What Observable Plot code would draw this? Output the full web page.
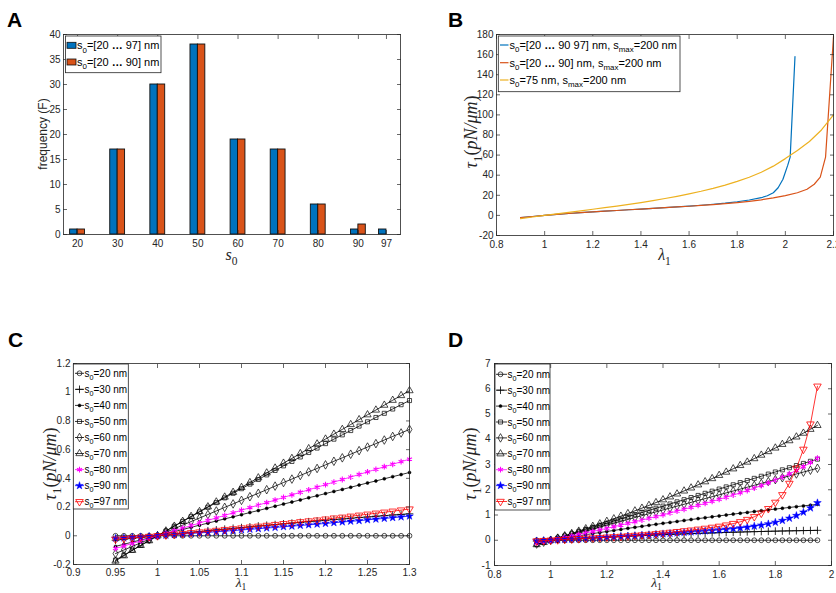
<!DOCTYPE html>
<html><head><meta charset="utf-8">
<script src="https://cdn.jsdelivr.net/npm/d3@7"></script>
<script src="https://cdn.jsdelivr.net/npm/@observablehq/plot@0.6"></script>
<style>
html,body{margin:0;padding:0;background:#fff;overflow:hidden;}
#root{position:relative;width:836px;height:593px;background:#fff;}
.panel{position:absolute;}
text{white-space:pre;}
</style></head><body><div id="root"></div>
<script>
// ---------- Panel A data ----------
const sBins = [20,30,40,50,60,70,80,90,97];
const freqAll = [1,17,30,38,19,17,6,1,1];     // s0 = [20 … 97] nm
const freqTo90 = [1,17,30,38,19,17,6,2,0];    // s0 = [20 … 90] nm
const ticksAx = [20,30,40,50,60,70,80,90,97];
const ticksAy = [0,5,10,15,20,25,30,35,40];

// ---------- Panel B data ----------
const lamBblue = [0.9,0.95,1.0,1.05,1.1,1.15,1.2,1.25,1.3,1.35,1.4,1.45,1.5,1.55,1.6,1.65,1.7,1.75,1.8,1.85,1.9,1.925,1.95,1.97,1.99,2.01,2.02,2.04];
const tauBblue = [-2.3,-1.1,0,1.0,1.9,2.7,3.5,4.2,4.9,5.6,6.3,7.0,7.7,8.4,9.2,10.1,11.1,12.2,13.6,15.3,17.6,19.5,22.5,27.5,36,50,58,158];
const lamBorange = [0.9,0.95,1.0,1.05,1.1,1.15,1.2,1.25,1.3,1.35,1.4,1.45,1.5,1.55,1.6,1.65,1.7,1.75,1.8,1.85,1.9,1.95,2.0,2.05,2.09,2.12,2.145,2.167,2.2];
const tauBorange = [-2.3,-1.1,0,1.0,1.9,2.7,3.5,4.2,4.9,5.6,6.3,7.0,7.7,8.4,9.1,9.9,10.8,11.7,12.8,14.0,15.5,17.4,19.6,22.5,26,31,38,58,178];
const lamByellow = [0.9,0.95,1.0,1.05,1.1,1.15,1.2,1.25,1.3,1.35,1.4,1.45,1.5,1.55,1.6,1.65,1.7,1.75,1.8,1.85,1.9,1.95,2.0,2.05,2.1,2.15,2.2];
const tauByellow = [-3.2,-1.6,0,1.5,3.0,4.5,6.1,7.7,9.3,11.0,12.8,14.7,16.8,19.0,21.4,24.0,26.9,30.1,33.8,38.0,43.0,49.0,56.5,64.5,73.5,85,100];
const ticksBx = [0.8,1,1.2,1.4,1.6,1.8,2,2.2];
const ticksBy = [-20,0,20,40,60,80,100,120,140,160,180];

// ---------- Panel C data ----------
const sLabels = [20,30,40,50,60,70,80,90,97];
const lamC = [0.95,0.96,0.97,0.98,0.99,1,1.01,1.02,1.03,1.04,1.05,1.06,1.07,1.08,1.09,1.1,1.11,1.12,1.13,1.14,1.15,1.16,1.17,1.18,1.19,1.2,1.21,1.22,1.23,1.24,1.25,1.26,1.27,1.28,1.29,1.3];
const C20 = [0,0,0,0,0,0,0,0,0,0,0,0,0,0,0,0,0,0,0,0,0,0,0,0,0,0,0,0,0,0,0,0,0,0,0,0];
const C30 = [-0.031,-0.024,-0.018,-0.012,-0.006,0,0.006,0.012,0.018,0.024,0.029,0.035,0.041,0.046,0.052,0.057,0.062,0.068,0.073,0.078,0.083,0.088,0.093,0.098,0.103,0.108,0.113,0.117,0.122,0.127,0.131,0.136,0.140,0.145,0.149,0.153];
const C40 = [-0.074,-0.059,-0.044,-0.029,-0.015,0,0.015,0.029,0.044,0.059,0.074,0.088,0.103,0.118,0.132,0.147,0.162,0.176,0.191,0.206,0.221,0.235,0.250,0.265,0.279,0.294,0.309,0.323,0.338,0.353,0.368,0.382,0.397,0.412,0.426,0.441];
const C50 = [-0.169,-0.135,-0.101,-0.067,-0.034,0,0.033,0.067,0.100,0.133,0.166,0.199,0.231,0.264,0.296,0.328,0.360,0.392,0.424,0.455,0.487,0.518,0.549,0.580,0.611,0.642,0.673,0.703,0.733,0.764,0.794,0.824,0.853,0.883,0.913,0.942];
const C60 = [-0.124,-0.099,-0.074,-0.049,-0.025,0,0.025,0.049,0.074,0.099,0.124,0.148,0.173,0.198,0.222,0.247,0.272,0.296,0.321,0.346,0.371,0.395,0.420,0.445,0.469,0.494,0.519,0.543,0.568,0.593,0.618,0.642,0.667,0.692,0.716,0.741];
const C70 = [-0.176,-0.139,-0.101,-0.067,-0.034,0,0.034,0.067,0.101,0.135,0.169,0.202,0.236,0.270,0.303,0.337,0.371,0.404,0.438,0.472,0.506,0.539,0.573,0.607,0.640,0.674,0.708,0.741,0.775,0.809,0.843,0.876,0.910,0.944,0.977,1.011];
const C80 = [-0.089,-0.071,-0.053,-0.036,-0.018,0,0.018,0.036,0.053,0.071,0.089,0.107,0.125,0.142,0.160,0.178,0.196,0.214,0.231,0.249,0.267,0.285,0.303,0.320,0.338,0.356,0.374,0.392,0.409,0.427,0.445,0.463,0.481,0.498,0.516,0.534];
const C90 = [-0.018,-0.015,-0.011,-0.008,-0.004,0,0.004,0.008,0.012,0.016,0.020,0.024,0.028,0.032,0.036,0.041,0.045,0.049,0.054,0.058,0.063,0.067,0.072,0.076,0.081,0.086,0.091,0.096,0.101,0.105,0.111,0.116,0.121,0.126,0.131,0.137];
const C97 = [-0.024,-0.019,-0.015,-0.010,-0.005,0,0.005,0.010,0.015,0.021,0.026,0.031,0.037,0.043,0.048,0.054,0.060,0.066,0.072,0.078,0.084,0.090,0.097,0.103,0.109,0.116,0.123,0.129,0.136,0.143,0.150,0.157,0.164,0.171,0.179,0.186];
const ticksCx = [0.9,0.95,1,1.05,1.1,1.15,1.2,1.25,1.3];
const ticksCy = [-0.2,0,0.2,0.4,0.6,0.8,1,1.2];

// ---------- Panel D data ----------
const lamD = [0.95,0.975,1,1.025,1.05,1.075,1.1,1.125,1.15,1.175,1.2,1.225,1.25,1.275,1.3,1.325,1.35,1.375,1.4,1.425,1.45,1.475,1.5,1.525,1.55,1.575,1.6,1.625,1.65,1.675,1.7,1.725,1.75,1.775,1.8,1.825,1.85,1.875,1.9,1.925,1.95];
const D20 = [0,0,0,0,0,0,0,0,0,0,0,0,0,0,0,0,0,0,0,0,0,0,0,0,0,0,0,0,0,0,0,0,0,0,0,0,0,0,0,0,0];
const D30 = [-0.033,-0.016,0,0.016,0.032,0.047,0.063,0.077,0.092,0.106,0.120,0.134,0.147,0.160,0.173,0.185,0.197,0.209,0.220,0.231,0.242,0.252,0.263,0.272,0.282,0.291,0.300,0.309,0.317,0.325,0.333,0.340,0.347,0.354,0.360,0.366,0.372,0.377,0.383,0.387,0.392];
const D40 = [-0.091,-0.045,0,0.045,0.089,0.133,0.177,0.220,0.263,0.305,0.347,0.389,0.430,0.471,0.511,0.551,0.591,0.630,0.669,0.707,0.745,0.783,0.820,0.857,0.893,0.929,0.965,1.000,1.035,1.069,1.103,1.137,1.170,1.203,1.235,1.267,1.299,1.330,1.361,1.391,1.421];
const D50 = [-0.169,-0.085,0,0.085,0.169,0.254,0.338,0.423,0.507,0.592,0.676,0.761,0.845,0.930,1.014,1.099,1.183,1.268,1.352,1.437,1.521,1.606,1.690,1.775,1.859,1.944,2.028,2.113,2.197,2.282,2.366,2.451,2.535,2.620,2.704,2.789,2.873,2.958,3.042,3.127,3.211];
const D60 = [-0.150,-0.075,0,0.075,0.150,0.225,0.300,0.375,0.450,0.525,0.600,0.675,0.750,0.825,0.900,0.975,1.050,1.125,1.200,1.275,1.350,1.425,1.500,1.575,1.650,1.725,1.800,1.875,1.950,2.025,2.100,2.175,2.250,2.325,2.400,2.475,2.550,2.625,2.700,2.775,2.850];
const D70 = [-0.172,-0.087,0,0.088,0.178,0.269,0.362,0.457,0.553,0.651,0.750,0.851,0.954,1.058,1.164,1.271,1.381,1.492,1.604,1.719,1.835,1.953,2.073,2.195,2.318,2.443,2.570,2.699,2.830,2.962,3.097,3.233,3.372,3.512,3.654,3.798,3.944,4.092,4.242,4.395,4.549];
const D80 = [-0.108,-0.055,0,0.056,0.112,0.170,0.228,0.288,0.348,0.410,0.472,0.536,0.600,0.666,0.732,0.800,0.868,0.938,1.008,1.080,1.152,1.226,1.303,1.380,1.458,1.538,1.619,1.703,1.789,1.878,1.970,2.066,2.166,2.272,2.383,2.502,2.628,2.765,2.912,3.074,3.250];
const D90 = [-0.027,-0.014,0,0.014,0.028,0.042,0.057,0.072,0.087,0.102,0.118,0.134,0.150,0.166,0.183,0.200,0.217,0.234,0.252,0.270,0.288,0.306,0.326,0.346,0.366,0.387,0.410,0.434,0.459,0.488,0.520,0.556,0.598,0.648,0.708,0.780,0.868,0.976,1.110,1.276,1.481];
const D97 = [-0.03,-0.015,0,0.015,0.03,0.045,0.06,0.075,0.09,0.105,0.12,0.135,0.15,0.17,0.19,0.21,0.23,0.255,0.28,0.31,0.34,0.37,0.40,0.435,0.47,0.51,0.55,0.60,0.66,0.73,0.82,0.93,1.07,1.25,1.5,1.8,2.25,2.85,3.6,4.6,6.1];
const ticksDx = [0.8,1,1.2,1.4,1.6,1.8,2];
const ticksDy = [-1,0,1,2,3,4,5,6,7];

// ---------- styling ----------
const FONT = "Liberation Sans, Arial, Helvetica, sans-serif";
const SERIF = "Liberation Serif, Times New Roman, serif";
const INK = "#262626";
const BLUE = "#0072BD", ORANGE = "#D95319", YELLOW = "#EDB120";
const triDown = {draw(ctx, size){ const y = -Math.sqrt(size/(Math.sqrt(3)*3)); ctx.moveTo(0,-2*y); ctx.lineTo(Math.sqrt(3)*y, y); ctx.lineTo(-Math.sqrt(3)*y, y); ctx.closePath(); }};
const STY = [
  {sym:d3.symbolCircle,  r:2.4, stroke:"#000", fill:"none", sw:0.7, line:"#000"},
  {sym:d3.symbolPlus,    r:2.6, stroke:"#000", fill:"none", sw:0.8, line:"#000"},
  {sym:d3.symbolCircle,  r:1.5, stroke:"#000", fill:"#000", sw:0.5, line:"#000"},
  {sym:d3.symbolSquare,  r:2.3, stroke:"#000", fill:"none", sw:0.7, line:"#000"},
  {sym:d3.symbolDiamond, r:2.6, stroke:"#000", fill:"none", sw:0.7, line:"#000"},
  {sym:d3.symbolTriangle,r:2.7, stroke:"#000", fill:"none", sw:0.7, line:"#000"},
  {sym:d3.symbolAsterisk,r:2.7, stroke:"#ff00ff", fill:"none", sw:1.1, line:"#ff00ff"},
  {sym:d3.symbolStar,    r:2.4, stroke:"#0000ff", fill:"#0000ff", sw:0.5, line:"#0000ff"},
  {sym:triDown,          r:2.8, stroke:"#ff0000", fill:"none", sw:0.8, line:"#ff0000"}
];

function fmt(d){ return String(+(+d).toFixed(2)); }

function boxAxes(xt, yt, xpad=5, ypad=3){
  return [
    Plot.axisX({ticks:xt, anchor:"bottom", tickSize:4, dy:-4, fill:"none", stroke:INK, strokeWidth:0.7, label:null}),
    Plot.axisX({ticks:xt, anchor:"top", tickSize:4, dy:4, fill:"none", stroke:INK, strokeWidth:0.7, label:null}),
    Plot.axisY({ticks:yt, anchor:"left", tickSize:4, dx:4, fill:"none", stroke:INK, strokeWidth:0.7, label:null}),
    Plot.axisY({ticks:yt, anchor:"right", tickSize:4, dx:-4, fill:"none", stroke:INK, strokeWidth:0.7, label:null}),
    Plot.axisX({ticks:xt, anchor:"bottom", tickSize:0, tickPadding:xpad, tickFormat:fmt, fill:INK, label:null}),
    Plot.axisY({ticks:yt, anchor:"left", tickSize:0, tickPadding:ypad, tickFormat:fmt, fill:INK, label:null}),
    Plot.frame({stroke:INK, strokeWidth:0.8})
  ];
}

function richText(g, x, y, parts, o={}){
  const size=o.size||10, fam=o.family||FONT, subK=o.subShift||0.3;
  const t = g.append("text").attr("x",x).attr("y",y).attr("font-family",fam).attr("font-size",size)
    .attr("fill",o.fill||"#000").attr("text-anchor",o.anchor||"start");
  if (o.rotate) t.attr("transform",`rotate(${o.rotate},${x},${y})`);
  if (o.bold) t.attr("font-weight","bold");
  let shift=0;
  for (const p of parts){
    const ts = t.append("tspan").text(p.t);
    const want = p.sub ? size*subK : 0;
    if (want!==shift){ ts.attr("dy", want-shift); shift=want; }
    if (p.sub) ts.attr("font-size", size*0.72);
    if (p.it) ts.attr("font-style","italic");
    if (p.b) ts.attr("font-weight","bold");
  }
  return t;
}

const root = d3.select("#root");
function place(svg, left, top){
  const div = root.append("div").attr("class","panel").style("left",left+"px").style("top",top+"px");
  div.node().appendChild(svg);
  return d3.select(svg).append("g");
}
const baseStyle = {fontFamily:FONT, fontSize:"10px", color:INK, background:"transparent", overflow:"visible"};

// ---------- Panel A ----------
const svgA = Plot.plot({
  width:418, height:270, marginLeft:63, marginRight:18, marginTop:34, marginBottom:36,
  x:{domain:[16.5,100.5]}, y:{domain:[0,40]}, style:baseStyle,
  marks:[
    Plot.rect(sBins, {x1:d=>d-1.85, x2:d=>d, y1:0, y2:freqAll, fill:BLUE, stroke:"#111", strokeWidth:0.9}),
    Plot.rect(sBins, {x1:d=>d, x2:d=>d+1.85, y1:0, y2:freqTo90, fill:ORANGE, stroke:"#111", strokeWidth:0.9}),
    ...boxAxes(ticksAx, ticksAy)
  ]
});
const gA = place(svgA, 0, 0);
richText(gA, 7, 27, [{t:"A"}], {size:21, bold:true});
richText(gA, 231.5, 260, [{t:"s",it:true},{t:"0",sub:true}], {size:16, family:SERIF, anchor:"middle", fill:INK});
richText(gA, 47, 134, [{t:"frequency (F)"}], {size:12, anchor:"middle", rotate:-90, fill:INK});
gA.append("rect").attr("x",65.5).attr("y",36).attr("width",95.5).attr("height",36.7).attr("fill","#fff").attr("stroke",INK).attr("stroke-width",0.8);
[[BLUE,"97",45.3],[ORANGE,"90",62]].forEach(([c,e,cy])=>{
  gA.append("rect").attr("x",67).attr("y",cy-3).attr("width",9).attr("height",6).attr("fill",c).attr("stroke","#111").attr("stroke-width",0.8);
  richText(gA, 77, cy+4, [{t:"s"},{t:"0",sub:true},{t:"=[20 "},{t:"…",b:true},{t:" "+e+"] nm"}], {size:11});
});

// ---------- Panel B ----------
const svgB = Plot.plot({
  width:418, height:270, marginLeft:78, marginRight:3, marginTop:34, marginBottom:35,
  x:{domain:[0.8,2.2]}, y:{domain:[-20,180]}, style:baseStyle,
  marks:[
    Plot.line(tauBblue, {x:lamBblue, y:tauBblue, stroke:BLUE, strokeWidth:1.2}),
    Plot.line(tauBorange, {x:lamBorange, y:tauBorange, stroke:ORANGE, strokeWidth:1.2}),
    Plot.line(tauByellow, {x:lamByellow, y:tauByellow, stroke:YELLOW, strokeWidth:1.2}),
    ...boxAxes(ticksBx, ticksBy)
  ]
});
const gB = place(svgB, 418, 0);
richText(gB, 30, 27, [{t:"B"}], {size:21, bold:true});
richText(gB, 246.5, 260, [{t:"λ",it:true},{t:"1",sub:true}], {size:16, family:SERIF, anchor:"middle", fill:INK});
richText(gB, 59, 132, [{t:"τ",it:true},{t:"1",sub:true},{t:"("},{t:"pN/μm",it:true},{t:")"}], {size:18, family:SERIF, anchor:"middle", rotate:-90, fill:INK});
gB.append("rect").attr("x",80.3).attr("y",36).attr("width",181.7).attr("height",55.7).attr("fill","#fff").attr("stroke",INK).attr("stroke-width",0.8);
[
  [BLUE, [{t:"s"},{t:"0",sub:true},{t:"=[20 "},{t:"…",b:true},{t:" 90 97] nm, s"},{t:"max",sub:true},{t:"=200 nm"}], 45],
  [ORANGE, [{t:"s"},{t:"0",sub:true},{t:"=[20 "},{t:"…",b:true},{t:" 90] nm, s"},{t:"max",sub:true},{t:"=200 nm"}], 62.7],
  [YELLOW, [{t:"s"},{t:"0",sub:true},{t:"=75 nm, s"},{t:"max",sub:true},{t:"=200 nm"}], 80]
].forEach(([c,parts,cy])=>{
  gB.append("line").attr("x1",82).attr("x2",90.5).attr("y1",cy).attr("y2",cy).attr("stroke",c).attr("stroke-width",1.2);
  richText(gB, 91.5, cy+4, parts, {size:11});
});

// ---------- Panels C, D ----------
function seriesMarks(lam, arr){
  const m=[];
  arr.forEach((vals,i)=>{
    const s=STY[i];
    m.push(Plot.line(vals, {x:lam, y:vals, stroke:s.line, strokeWidth:0.8}));
    m.push(Plot.dot(vals, {x:lam, y:vals, symbol:s.sym, r:s.r, stroke:s.stroke, fill:s.fill, strokeWidth:s.sw}));
  });
  return m;
}
function markerLegend(g, bx, by, bw, bh, y0, step, lx1, lx2, mx, tx){
  g.append("rect").attr("x",bx).attr("y",by).attr("width",bw).attr("height",bh).attr("fill","#fff").attr("stroke",INK).attr("stroke-width",0.8);
  sLabels.forEach((s,i)=>{
    const cy=y0+i*step, st=STY[i];
    g.append("line").attr("x1",lx1).attr("x2",lx2).attr("y1",cy).attr("y2",cy).attr("stroke",st.line).attr("stroke-width",0.8);
    g.append("path").attr("d", d3.symbol(st.sym, Math.PI*st.r*st.r)()).attr("transform",`translate(${mx},${cy})`)
      .attr("fill",st.fill).attr("stroke",st.stroke).attr("stroke-width",st.sw);
    richText(g, tx, cy+3.5, [{t:"s"},{t:"0",sub:true},{t:"="+s+" nm"}], {size:10});
  });
}

const svgC = Plot.plot({
  width:418, height:297, marginLeft:73, marginRight:9, marginTop:67, marginBottom:29,
  x:{domain:[0.9,1.3]}, y:{domain:[-0.2,1.2]}, style:baseStyle,
  marks:[
    ...seriesMarks(lamC, [C20,C30,C40,C50,C60,C70,C80,C90,C97]),
    ...boxAxes(ticksCx, ticksCy, 4)
  ]
});
const gC = place(svgC, 0, 296);
richText(gC, 8, 51, [{t:"C"}], {size:21, bold:true});
richText(gC, 241, 291, [{t:"λ",it:true},{t:"1",sub:true}], {size:13.5, family:SERIF, anchor:"middle", fill:INK, subShift:0.2});
richText(gC, 56, 168, [{t:"τ",it:true},{t:"1",sub:true},{t:"("},{t:"pN/μm",it:true},{t:")"}], {size:18, family:SERIF, anchor:"middle", rotate:-90, fill:INK});
markerLegend(gC, 73.3, 68, 55, 145, 77.3, 16.05, 75, 84, 79.5, 84.5);

const svgD = Plot.plot({
  width:418, height:297, marginLeft:76, marginRight:5, marginTop:67, marginBottom:28,
  x:{domain:[0.8,2]}, y:{domain:[-1,7]}, style:baseStyle,
  marks:[
    ...seriesMarks(lamD, [D20,D30,D40,D50,D60,D70,D80,D90,D97]),
    ...boxAxes(ticksDx, ticksDy, 5, 4)
  ]
});
const gD = place(svgD, 418, 296);
richText(gD, 30, 51, [{t:"D"}], {size:21, bold:true});
richText(gD, 238.5, 291, [{t:"λ",it:true},{t:"1",sub:true}], {size:13.5, family:SERIF, anchor:"middle", fill:INK, subShift:0.2});
richText(gD, 58, 168, [{t:"τ",it:true},{t:"1",sub:true},{t:"("},{t:"pN/μm",it:true},{t:")"}], {size:18, family:SERIF, anchor:"middle", rotate:-90, fill:INK});
markerLegend(gD, 77, 68, 55, 146, 78.3, 15.9, 78, 89, 82.5, 89.5);
</script></body></html>
